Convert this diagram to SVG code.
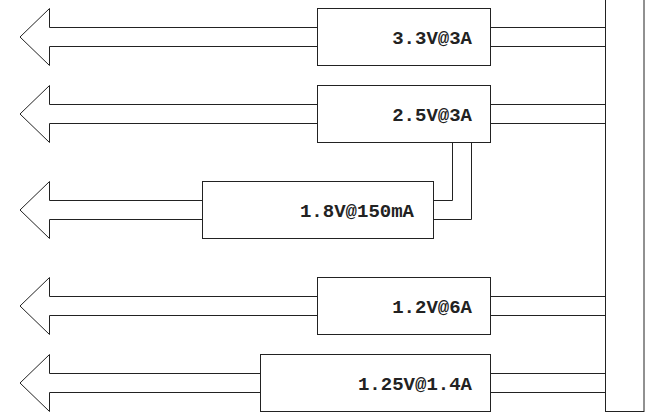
<svg xmlns="http://www.w3.org/2000/svg" width="654" height="413" viewBox="0 0 654 413">
<style>
.box{fill:#fff;stroke:#222;stroke-width:1}
.ln{fill:none;stroke:#222;stroke-width:1}
.arr{fill:#fff;stroke:#222;stroke-width:1;stroke-linejoin:miter}
.lbl{font-family:"Liberation Mono","Courier New",monospace;font-weight:bold;font-size:19px;fill:#222;text-anchor:end}
</style>
<rect width="654" height="413" fill="#fff"/>
<g id="connectors">
  <path class="arr" d="M317.5,27.5 H49.5 V8.5 L20,37 L49.5,65.5 V46.5 H317.5"/>
  <path class="arr" d="M317.5,104.5 H49.5 V85.5 L20,114 L49.5,142.5 V123.5 H317.5"/>
  <path class="arr" d="M202.5,200.5 H49.5 V181.5 L20,210 L49.5,238.5 V219.5 H202.5"/>
  <path class="arr" d="M317.5,296.5 H49.5 V277.5 L20,306 L49.5,334.5 V315.5 H317.5"/>
  <path class="arr" d="M260.5,373.5 H49.5 V354.5 L20,383 L49.5,411.5 V392.5 H260.5"/>
  <path class="ln" d="M490.5,27.5 H605.5 M490.5,46.5 H605.5"/>
  <path class="ln" d="M490.5,104.5 H605.5 M490.5,123.5 H605.5"/>
  <path class="ln" d="M490.5,296.5 H605.5 M490.5,315.5 H605.5"/>
  <path class="ln" d="M490.5,373.5 H605.5 M490.5,392.5 H605.5"/>
  <path class="ln" d="M452.5,142.5 V200.5 H433.5 M471.5,142.5 V219.5 H433.5"/>
</g>
<g id="bus">
  <rect class="box" x="605.5" y="-1" width="38.5" height="412.5"/>
</g>
<g id="reg33">
  <rect class="box" x="317.5" y="8.5" width="173" height="57"/>
  <text class="lbl" x="472" y="43.5">3.3V@3A</text>
</g>
<g id="reg25">
  <rect class="box" x="317.5" y="85.5" width="173" height="57"/>
  <text class="lbl" x="472" y="120.5">2.5V@3A</text>
</g>
<g id="reg18">
  <rect class="box" x="202.5" y="181.5" width="231" height="57"/>
  <text class="lbl" x="414" y="216.5">1.8V@150mA</text>
</g>
<g id="reg12">
  <rect class="box" x="317.5" y="277.5" width="173" height="57"/>
  <text class="lbl" x="472" y="312.5">1.2V@6A</text>
</g>
<g id="reg125">
  <rect class="box" x="260.5" y="354.5" width="230" height="57"/>
  <text class="lbl" x="472" y="389.5">1.25V@1.4A</text>
</g>
</svg>
